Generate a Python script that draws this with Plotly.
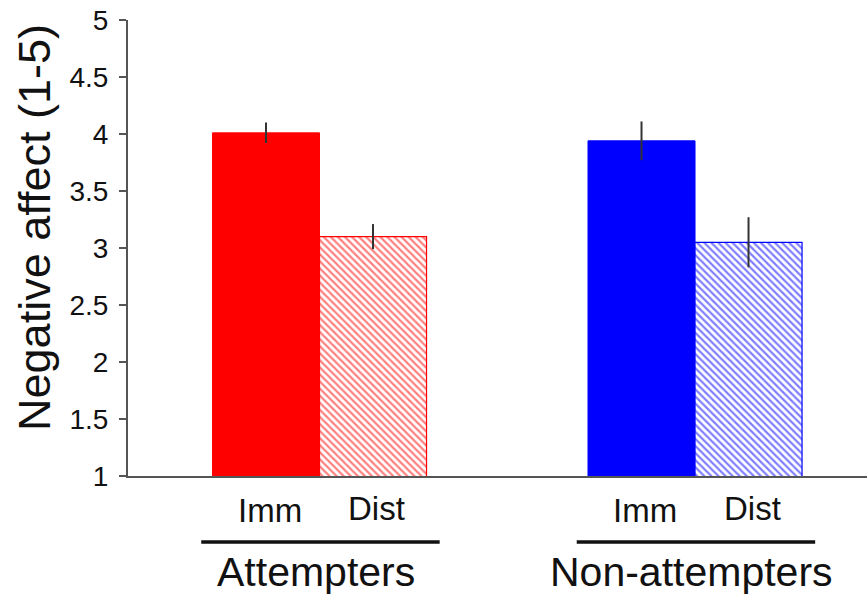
import plotly.graph_objects as go

groups = ["Attempters", "Non-attempters"]
conditions = ["Imm", "Dist"]
imm_values = [4.01, 3.94]
imm_errors = [0.09, 0.17]
dist_values = [3.10, 3.05]
dist_errors = [0.11, 0.22]
group_colors = ["#ff0000", "#0000ff"]
y_ticks = [1, 1.5, 2, 2.5, 3, 3.5, 4, 4.5, 5]
y_ticktext = ["1", "1.5", "2", "2.5", "3", "3.5", "4", "4.5", "5"]

FONT = "Liberation Sans, Arial, Helvetica, sans-serif"
err_style = dict(type="data", thickness=2, width=0, color="#333333")

fig = go.Figure()
fig.add_trace(go.Bar(
    x=groups, y=imm_values, name="Imm",
    marker=dict(color=group_colors, line=dict(color=group_colors, width=1)),
    error_y=dict(array=imm_errors, **err_style),
))
fig.add_trace(go.Bar(
    x=groups, y=dist_values, name="Dist",
    marker=dict(color="white", line=dict(color=group_colors, width=1.2),
                pattern=dict(shape="\\", fgcolor=group_colors, bgcolor="white",
                             size=5, solidity=0.45, fillmode="overlay")),
    error_y=dict(array=dist_errors, **err_style),
))

bargap = 0.43
half = (1 - bargap) / 4
annotations = []
shapes = []
for gi, g in enumerate(groups):
    for ci, c in enumerate(conditions):
        xc = gi + (-half if ci == 0 else half) + 0.01
        annotations.append(dict(x=xc, xref="x", y=0, yref="paper", yshift=-34 if ci == 0 else -32,
                                text=c, showarrow=False, yanchor="middle",
                                font=dict(family=FONT, size=33, color="#111111")))
    annotations.append(dict(x=gi - 0.01, xref="x", y=0, yref="paper", yshift=-96,
                            text=g, showarrow=False, yanchor="middle",
                            font=dict(family=FONT, size=41, color="#111111")))
    shapes.append(dict(type="line", xref="x", yref="paper", x0=gi - 0.315, x1=gi + 0.32,
                       y0=-0.145, y1=-0.145, line=dict(color="#111111", width=3.5)))

annotations.append(dict(x=0, xref="paper", xshift=-93, y=0.544, yref="paper",
                        text="Negative affect (1-5)", textangle=-90, showarrow=False,
                        xanchor="center", yanchor="middle",
                        font=dict(family=FONT, size=45, color="#111111")))

fig.update_layout(
    width=867, height=594,
    margin=dict(l=128, r=0, t=20, b=118),
    plot_bgcolor="white", paper_bgcolor="white",
    barmode="group", bargap=bargap, bargroupgap=0,
    showlegend=False,
    annotations=annotations, shapes=shapes,
)
fig.update_xaxes(range=[-0.51, 1.458], showticklabels=False, showgrid=False,
                 showline=True, linecolor="#555555", linewidth=2, ticks="", zeroline=False)
fig.update_yaxes(range=[1, 5], tickvals=y_ticks, ticktext=y_ticktext, showgrid=False,
                 showline=True, linecolor="#555555", linewidth=2, ticks="outside",
                 ticklen=7, tickwidth=2, tickcolor="#555555", zeroline=False,
                 ticklabelstandoff=5,
                 tickfont=dict(family=FONT, size=28, color="#111111"))

fig.write_html("out.html", config={"displayModeBar": False},
               post_script="document.body.style.margin='0';")
